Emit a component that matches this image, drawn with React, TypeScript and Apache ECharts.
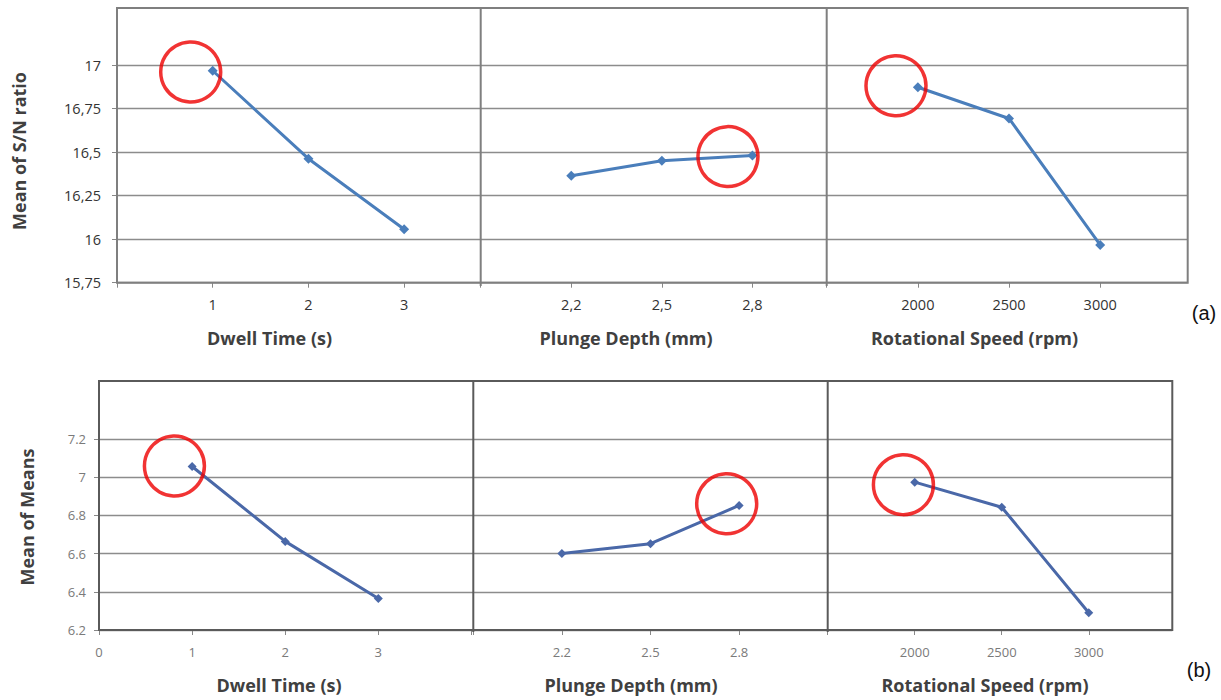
import React, { useEffect, useRef } from 'react';
import * as echarts from 'echarts';

// ---------- data ----------
const dwellLevels = ['1', '2', '3'];
const depthLevelsA = ['2,2', '2,5', '2,8'];
const depthLevelsB = ['2.2', '2.5', '2.8'];
const speedLevels = ['2000', '2500', '3000'];

// (a) Mean of S/N ratio
const snDwell = [16.967, 16.462, 16.057];
const snDepth = [16.364, 16.45, 16.481];
const snSpeed = [16.872, 16.693, 15.967];

// (b) Mean of Means
const meanDwell = [7.056, 6.664, 6.365];
const meanDepth = [6.6, 6.652, 6.852];
const meanSpeed = [6.974, 6.843, 6.29];

// red highlight circles (data coords: level position, value)
const snHighlights = [[0.77, 16.96], [2.73, 16.474], [0.76, 16.881]];
const meanHighlights = [[0.81, 7.059], [2.86, 6.861], [0.87, 6.961]];

// axis ranges
const snAxis = { min: 15.75, max: 17, interval: 0.25 };
const meanAxis = { min: 6.2, max: 7.2, interval: 0.2 };

const FONT = '"Open Sans", "Noto Sans", sans-serif';

function buildOption() {
  const rows = [
    {
      top: 65, height: 217.7, axis: snAxis,
      yFmt: (v: number) => String(+v.toFixed(2)).replace('.', ','),
      labelColor: '#333', labelSize: 14.5, yMargin: 16, xMargin: 14,
      lineColor: '#4A7EBB', symbolSize: 10,
      showZero: false,
      panels: [
        { left: 117, width: 363.7, xMax: 3.8, labels: dwellLevels, values: snDwell, mark: snHighlights[0] },
        { left: 480.7, width: 346, xMax: 3.82, labels: depthLevelsA, values: snDepth, mark: snHighlights[1] },
        { left: 826.7, width: 361, xMax: 3.96, labels: speedLevels, values: snSpeed, mark: snHighlights[2] },
      ],
    },
    {
      top: 439, height: 191, axis: meanAxis,
      yFmt: (v: number) => String(+v.toFixed(1)),
      labelColor: '#7a7a7a', labelSize: 13, yMargin: 13, xMargin: 15,
      lineColor: '#4A68A8', symbolSize: 9,
      showZero: true,
      panels: [
        { left: 99, width: 374.3, xMax: 4.02, labels: dwellLevels, values: meanDwell, mark: meanHighlights[0] },
        { left: 473.3, width: 354.4, xMax: 4.0, labels: depthLevelsB, values: meanDepth, mark: meanHighlights[1] },
        { left: 827.7, width: 344.6, xMax: 3.96, labels: speedLevels, values: meanSpeed, mark: meanHighlights[2] },
      ],
    },
  ];

  const grid: any[] = [];
  const xAxis: any[] = [];
  const yAxis: any[] = [];
  const series: any[] = [];

  rows.forEach((row) => {
    row.panels.forEach((p, pi) => {
      const gi = grid.length;
      grid.push({ left: p.left, top: row.top, width: p.width, height: row.height, containLabel: false });
      xAxis.push({
        type: 'value', gridIndex: gi, min: 0, max: p.xMax, interval: 1,
        axisLine: { show: false },
        axisTick: { show: true, length: 5, lineStyle: { color: '#888', width: 1 } },
        splitLine: { show: false },
        axisLabel: {
          margin: row.xMargin,
          color: row.labelColor, fontSize: row.labelSize, fontFamily: FONT,
          showMaxLabel: false,
          formatter: (v: number) => {
            if (Math.abs(v - Math.round(v)) < 1e-6) {
              const k = Math.round(v);
              if (k >= 1 && k <= p.labels.length) return p.labels[k - 1];
              if (k === 0 && row.showZero && pi === 0) return '0';
            }
            return '';
          },
        },
      });
      yAxis.push({
        type: 'value', gridIndex: gi,
        min: row.axis.min, max: row.axis.max, interval: row.axis.interval,
        axisLine: { show: false },
        axisTick: { show: pi === 0, length: 5, lineStyle: { color: '#888' } },
        splitLine: { show: true, lineStyle: { color: '#8c8c8c', width: 1.3 } },
        axisLabel: {
          show: pi === 0, margin: row.yMargin,
          color: row.labelColor, fontSize: row.labelSize, fontFamily: FONT,
          formatter: row.yFmt,
        },
      });
      series.push({
        type: 'line', xAxisIndex: gi, yAxisIndex: gi,
        data: p.values.map((v, i) => [i + 1, v]),
        symbol: 'diamond', symbolSize: row.symbolSize,
        lineStyle: { color: row.lineColor, width: 3 },
        itemStyle: { color: row.lineColor },
        z: 3,
      });
      series.push({
        type: 'scatter', xAxisIndex: gi, yAxisIndex: gi,
        data: [p.mark],
        symbol: 'circle', symbolSize: 60,
        itemStyle: { color: 'rgba(0,0,0,0)', borderColor: '#EE0000', borderWidth: 3.5 },
        clip: false,
        z: 4,
      });
    });
  });

  const titleStyle = { fontFamily: FONT, fontWeight: 'bold', fontSize: 18, fill: '#404040', textAlign: 'center', textVerticalAlign: 'middle' };
  const graphic: any[] = [
    // frame (a)
    { type: 'rect', shape: { x: 117, y: 8, width: 1070.7, height: 274.7 }, style: { fill: 'none', stroke: '#7f7f7f', lineWidth: 2 }, z: 2 },
    { type: 'line', shape: { x1: 480.7, y1: 8, x2: 480.7, y2: 286 }, style: { stroke: '#7f7f7f', lineWidth: 2 }, z: 2 },
    { type: 'line', shape: { x1: 826.7, y1: 8, x2: 826.7, y2: 286 }, style: { stroke: '#7f7f7f', lineWidth: 2 }, z: 2 },
    // frame (b)
    { type: 'rect', shape: { x: 99, y: 381, width: 1073.3, height: 249 }, style: { fill: 'none', stroke: '#5a5a5a', lineWidth: 2 }, z: 2 },
    { type: 'line', shape: { x1: 473.3, y1: 381, x2: 473.3, y2: 632 }, style: { stroke: '#5a5a5a', lineWidth: 2 }, z: 2 },
    { type: 'line', shape: { x1: 827.7, y1: 381, x2: 827.7, y2: 632 }, style: { stroke: '#5a5a5a', lineWidth: 2 }, z: 2 },
    // axis titles (a)
    { type: 'text', x: 269.5, y: 338, style: { ...titleStyle, text: 'Dwell Time (s)' } },
    { type: 'text', x: 626, y: 338, style: { ...titleStyle, text: 'Plunge Depth (mm)' } },
    { type: 'text', x: 974.5, y: 338, style: { ...titleStyle, text: 'Rotational Speed (rpm)' } },
    { type: 'text', x: 19, y: 151, rotation: Math.PI / 2, style: { ...titleStyle, text: 'Mean of S/N ratio' } },
    // axis titles (b)
    { type: 'text', x: 279, y: 685, style: { ...titleStyle, text: 'Dwell Time (s)' } },
    { type: 'text', x: 631, y: 685, style: { ...titleStyle, text: 'Plunge Depth (mm)' } },
    { type: 'text', x: 985, y: 685, style: { ...titleStyle, text: 'Rotational Speed (rpm)' } },
    { type: 'text', x: 27, y: 517, rotation: Math.PI / 2, style: { ...titleStyle, text: 'Mean of Means' } },
    // panel tags
    { type: 'text', x: 1204, y: 313, style: { text: '(a)', fontFamily: '"Liberation Sans", Arial, sans-serif', fontSize: 20, fill: '#111', textAlign: 'center', textVerticalAlign: 'middle' } },
    { type: 'text', x: 1199, y: 670, style: { text: '(b)', fontFamily: '"Liberation Sans", Arial, sans-serif', fontSize: 20, fill: '#111', textAlign: 'center', textVerticalAlign: 'middle' } },
  ];

  return { animation: false, backgroundColor: '#fff', grid, xAxis, yAxis, series, graphic };
}

export default function App() {
  const ref = useRef<HTMLDivElement>(null);
  useEffect(() => {
    const chart = echarts.init(ref.current!, null, { renderer: 'svg' });
    chart.setOption(buildOption() as any);
    return () => chart.dispose();
  }, []);
  return (
    <div
      ref={ref}
      style={{ position: 'fixed', left: 0, top: 0, width: 1221, height: 700, background: '#fff' }}
    />
  );
}
